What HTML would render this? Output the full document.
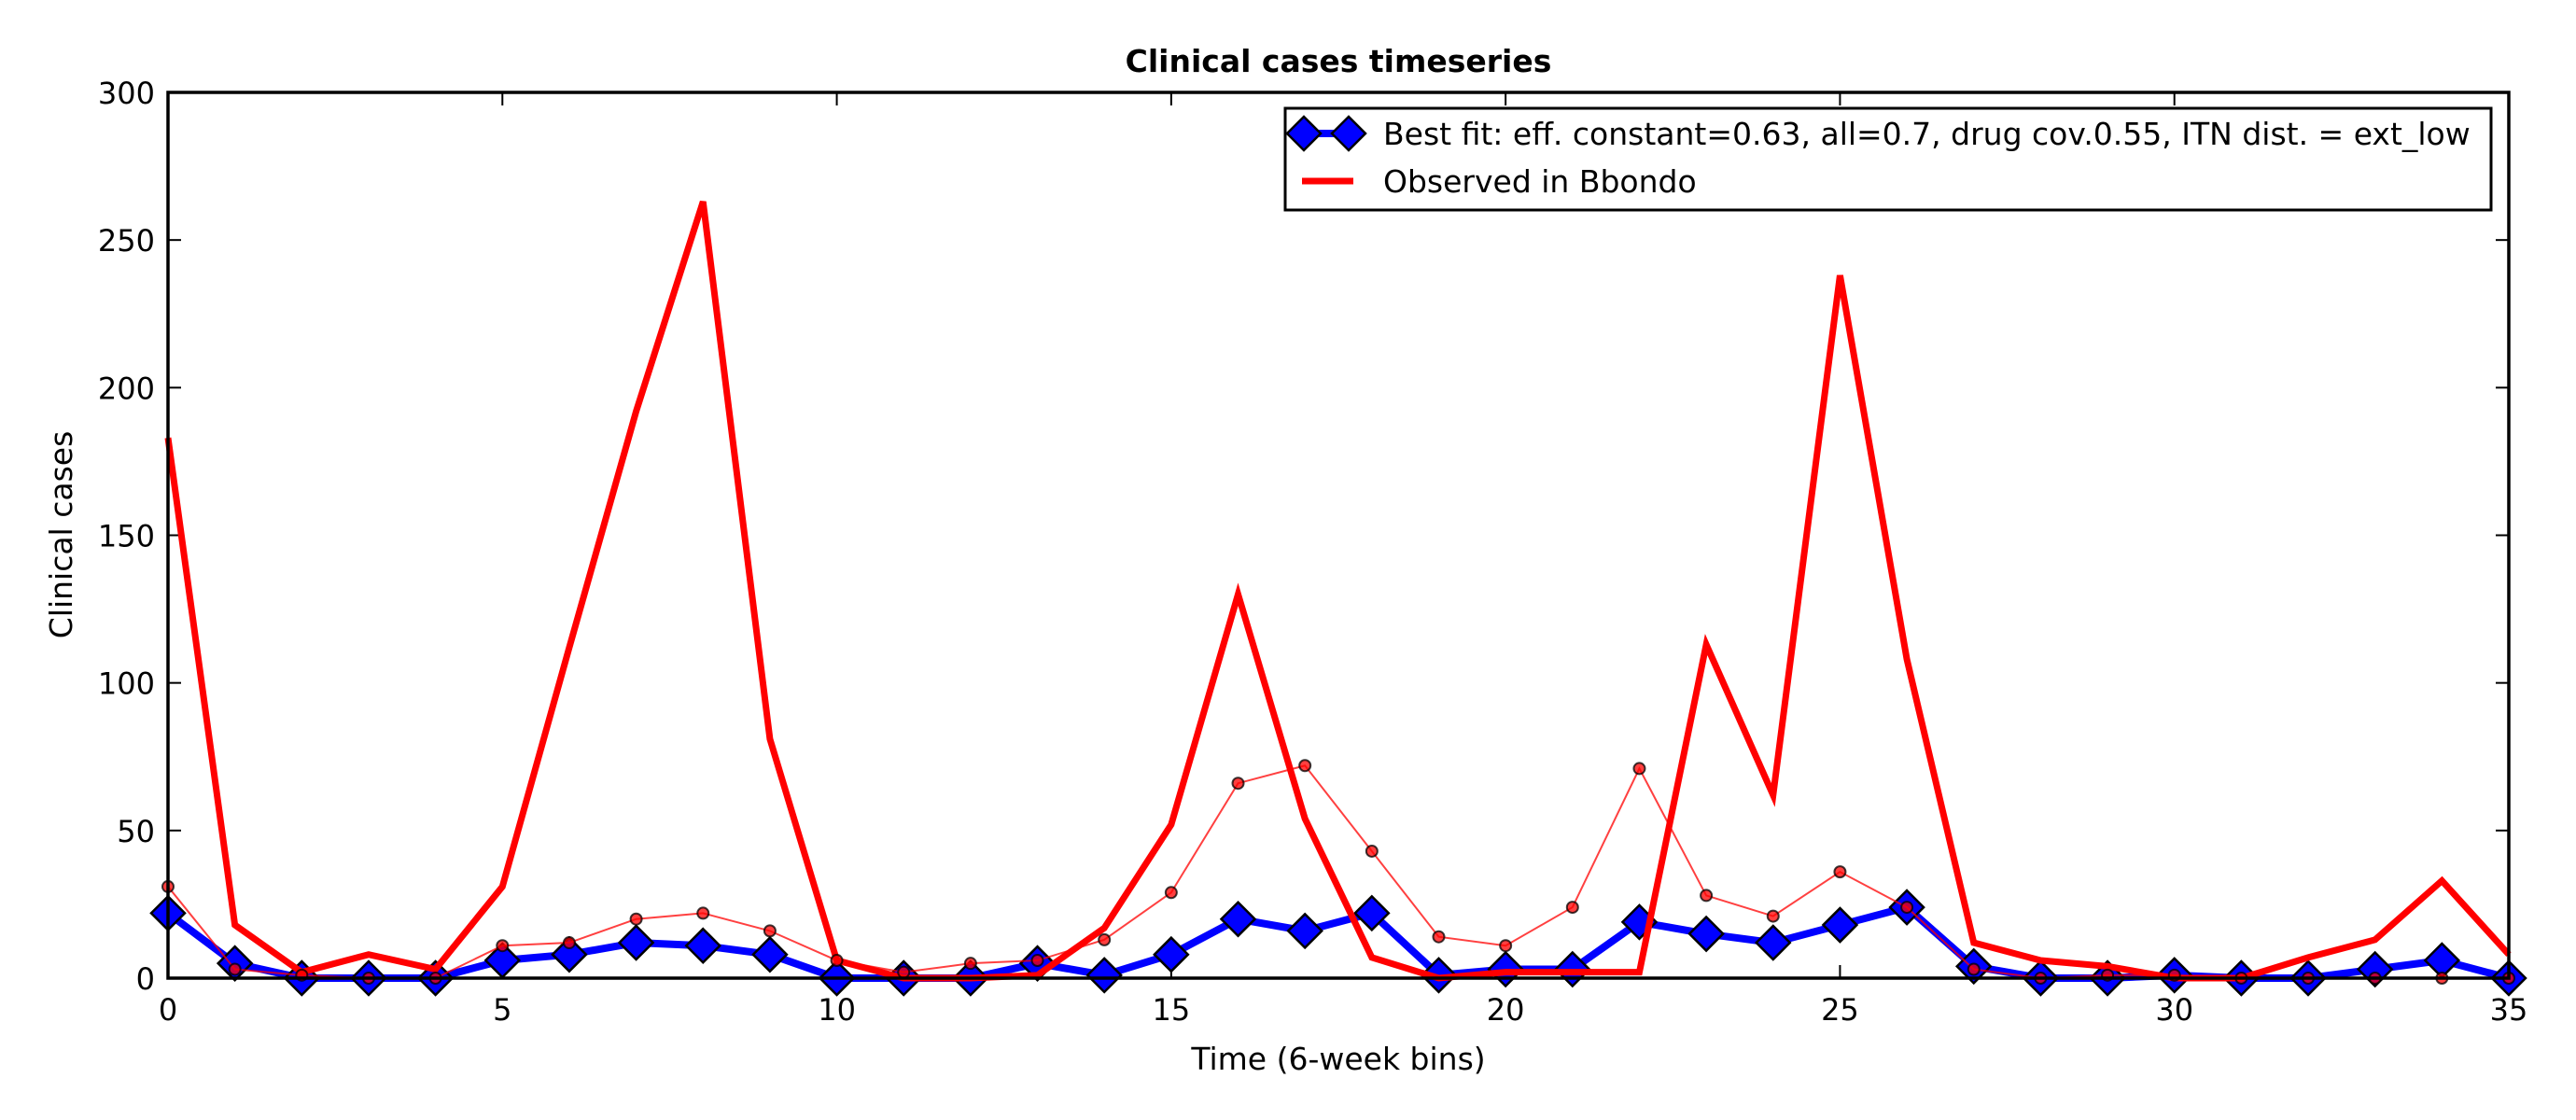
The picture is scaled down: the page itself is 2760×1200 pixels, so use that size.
<!DOCTYPE html>
<html><head><meta charset="utf-8"><style>
html,body{margin:0;padding:0;background:#fff;}
svg{display:block;font-family:"DejaVu Sans","Liberation Sans",sans-serif;}
</style></head><body>
<svg id="chart" width="2760" height="1200" viewBox="0 0 2760 1200" xmlns="http://www.w3.org/2000/svg">
<rect width="2760" height="1200" fill="#fff"/>
<text x="1434" y="77" text-anchor="middle" font-size="33" font-weight="bold">Clinical cases timeseries</text>
<text x="1434" y="1146" text-anchor="middle" font-size="33">Time (6-week bins)</text>
<text transform="translate(77,573) rotate(-90)" text-anchor="middle" font-size="33">Clinical cases</text>
<g id="ticks"></g>
<g id="series"></g>
<rect x="180" y="99" width="2508" height="949" fill="none" stroke="#000" stroke-width="3.5"/>
<g>
<rect x="1377" y="116" width="1292" height="109" fill="#fff" stroke="#000" stroke-width="3"/>
<g>
<line x1="1397" y1="143" x2="1445" y2="143" stroke="#0000ff" stroke-width="8"/>
<polygon points="1397,125 1415,143 1397,161 1379,143" fill="#0000ff" stroke="#000" stroke-width="2.5"/>
<polygon points="1445,125 1463,143 1445,161 1427,143" fill="#0000ff" stroke="#000" stroke-width="2.5"/>
<text x="1482" y="155" font-size="33">Best fit: eff. constant=0.63, all=0.7, drug cov.0.55, ITN dist. = ext_low</text>
</g>
<g>
<line x1="1395" y1="194" x2="1450" y2="194" stroke="#ff0000" stroke-width="7"/>
<text x="1482" y="206" font-size="33">Observed in Bbondo</text>
</g>
</g>
</svg>
<script>
const timeBins = [0,1,2,3,4,5,6,7,8,9,10,11,12,13,14,15,16,17,18,19,20,21,22,23,24,25,26,27,28,29,30,31,32,33,34,35];
const observedCases = [183,18,2,8,3,31,112,192,263,81,6,0,0,1,17,52,130,54,7,0,2,2,2,113,62,238,108,12,6,4,0,0,7,13,33,8];
const bestFitCases = [22,5,0,0,0,6,8,12,11,8,0,0,0,5,1,8,20,16,22,1,3,3,19,15,12,18,24,4,0,0,1,0,0,3,6,0];
const altSimCases = [31,3,1,0,0,11,12,20,22,16,6,2,5,6,13,29,66,72,43,14,11,24,71,28,21,36,24,3,0,1,1,0,0,0,0,0];
const xTickLabels = [0,5,10,15,20,25,30,35];
const yTickLabels = [0,50,100,150,200,250,300];

const NS = "http://www.w3.org/2000/svg";
const L=180,R=2688,T=99,B=1048;
const xs = v => L + (v-0)/(35-0)*(R-L);
const ys = v => B - (v-0)/(300-0)*(B-T);
function mk(tag, attrs, parent){const e=document.createElementNS(NS,tag);for(const k in attrs)e.setAttribute(k,attrs[k]);parent.appendChild(e);return e;}
const tg=document.getElementById('ticks'), sg=document.getElementById('series');
xTickLabels.forEach(v=>{
  const x=xs(v);
  const t1=mk('line',{x1:x,y1:B,x2:x,y2:B-14,stroke:'#000','stroke-width':2},tg);
  
  
  const t2=mk('line',{x1:x,y1:T,x2:x,y2:T+14,stroke:'#000','stroke-width':2},tg);
  
  
  const tx=mk('text',{x:x,y:B+45,'text-anchor':'middle','font-size':32},tg);
  tx.textContent=v;
  
  
});
yTickLabels.forEach(v=>{
  const y=ys(v);
  const t1=mk('line',{x1:L,y1:y,x2:L+14,y2:y,stroke:'#000','stroke-width':2},tg);
  
  
  const t2=mk('line',{x1:R,y1:y,x2:R-14,y2:y,stroke:'#000','stroke-width':2},tg);
  
  
  const tx=mk('text',{x:L-14,y:y+12,'text-anchor':'end','font-size':32},tg);
  tx.textContent=v;
  
  
});
function pts(arr){return arr.map((v,i)=>xs(timeBins[i])+','+ys(v)).join(' ');}
const bl=mk('polyline',{points:pts(bestFitCases),fill:'none',stroke:'#0000ff','stroke-width':8,'stroke-linejoin':'round'},sg);


bestFitCases.forEach((v,i)=>{
  const x=xs(timeBins[i]),y=ys(v),d=18;
  const p=mk('polygon',{points:`${x},${y-d} ${x+d},${y} ${x},${y+d} ${x-d},${y}`,fill:'#0000ff',stroke:'#000','stroke-width':2.5},sg);
  
  
});
const ol=mk('polyline',{points:pts(observedCases),fill:'none',stroke:'#ff0000','stroke-width':7,'stroke-linejoin':'miter'},sg);


const al=mk('polyline',{points:pts(altSimCases),fill:'none',stroke:'#ff0000','stroke-width':2,'stroke-opacity':0.75},sg);


altSimCases.forEach((v,i)=>{
  const c=mk('circle',{cx:xs(timeBins[i]),cy:ys(v),r:6,fill:'#ff0000','fill-opacity':0.75,stroke:'#000','stroke-opacity':0.75,'stroke-width':2},sg);
  
  
});
</script>
</body></html>
